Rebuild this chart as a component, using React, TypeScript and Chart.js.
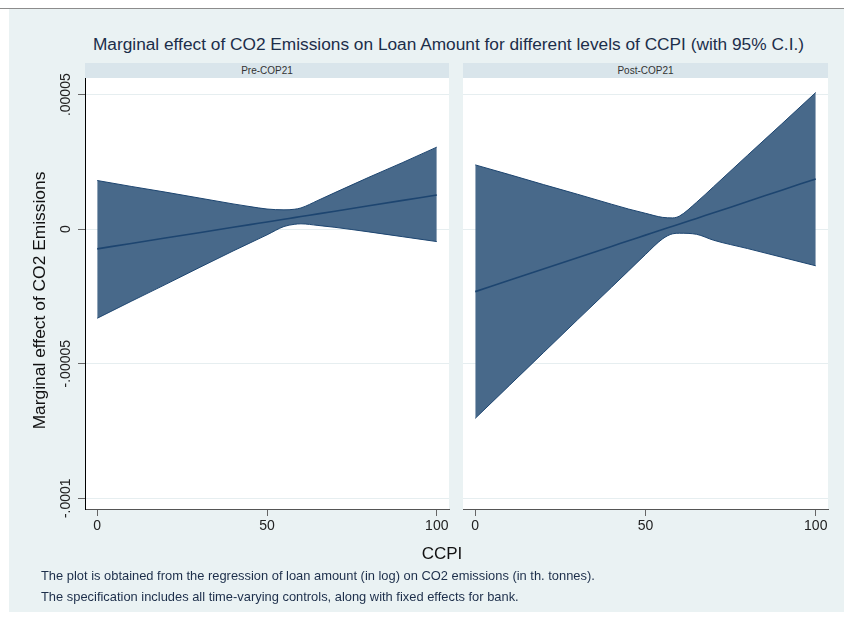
import React, { useEffect, useRef } from 'react';
import { Chart, registerables } from 'chart.js';

Chart.register(...registerables);

// ---- Data ----
const ccpi = [0, 10, 20, 30, 40, 45, 50, 55, 58, 60, 65, 70, 80, 90, 100];

const preCenter = [-7.3e-6, -5.3e-6, -3.3e-6, -1.3e-6, 0.7e-6, 1.7e-6, 2.7e-6, 3.7e-6, 4.3e-6, 4.7e-6, 5.7e-6, 6.7e-6, 8.7e-6, 10.7e-6, 12.7e-6];
const preUpper = [18.1e-6, 15.9e-6, 13.8e-6, 11.6e-6, 9.4e-6, 8.4e-6, 7.5e-6, 7.2e-6, 7.4e-6, 7.9e-6, 10.7e-6, 13.6e-6, 19.3e-6, 24.8e-6, 30.5e-6];
const preLower = [-33.1e-6, -26.8e-6, -20.6e-6, -14.3e-6, -8.1e-6, -5.1e-6, -2.1e-6, 1.0e-6, 1.8e-6, 2.0e-6, 1.4e-6, 0.7e-6, -1.0e-6, -2.8e-6, -4.6e-6];

const postCenter = [-23.2e-6, -19.0e-6, -14.8e-6, -10.6e-6, -6.4e-6, -4.3e-6, -2.2e-6, -0.1e-6, 1.1e-6, 1.9e-6, 4.0e-6, 6.1e-6, 10.3e-6, 14.5e-6, 18.7e-6];
const postUpper = [23.9e-6, 20.3e-6, 16.6e-6, 13.0e-6, 9.3e-6, 7.5e-6, 5.9e-6, 4.4e-6, 4.2e-6, 4.9e-6, 10.0e-6, 15.8e-6, 27.5e-6, 39.1e-6, 50.8e-6];
const postLower = [-70.3e-6, -58.1e-6, -45.9e-6, -33.7e-6, -21.6e-6, -15.5e-6, -9.4e-6, -3.6e-6, -1.7e-6, -1.5e-6, -1.9e-6, -4.1e-6, -7.2e-6, -10.4e-6, -13.6e-6];

const yTickValues = [0.00005, 0, -0.00005, -0.0001];
const yTickLabels = ['.00005', '0', '-.00005', '-.0001'];
const xTickValues = [0, 50, 100];
const xTickLabels = ['0', '50', '100'];
const panelTitles = ['Pre-COP21', 'Post-COP21'];

const titleText = 'Marginal effect of CO2 Emissions on Loan Amount for different levels of CCPI (with 95% C.I.)';
const yTitleText = 'Marginal effect of CO2 Emissions';
const xTitleText = 'CCPI';
const notes = [
  'The plot is obtained from the regression of loan amount (in log) on CO2 emissions (in th. tonnes).',
  'The specification includes all time-varying controls, along with fixed effects for bank.',
];

// ---- Styling ----
const FONT = '"Liberation Sans", Arial, Helvetica, sans-serif';
const BG = '#eaf2f3';
const STRIP = '#d9e5eb';
const BAND = '#48698a';
const LINE = '#1d4570';
const GRID = '#e6eef0';
const Y_MIN = -1.04e-4;
const Y_MAX = 5.62e-5;
const X_MIN = -3.6;
const X_MAX = 103.6;

const whiteArea = {
  id: 'whiteArea',
  beforeDraw(chart: any) {
    const { ctx, chartArea } = chart;
    ctx.save();
    ctx.fillStyle = '#ffffff';
    ctx.fillRect(chartArea.left, chartArea.top, chartArea.right - chartArea.left, chartArea.bottom - chartArea.top);
    ctx.restore();
  },
};

const rotatedYLabels = {
  id: 'rotatedYLabels',
  afterDraw(chart: any) {
    const { ctx, chartArea } = chart;
    const y = chart.scales.y;
    ctx.save();
    ctx.fillStyle = '#222';
    ctx.font = `14px ${FONT}`;
    ctx.textAlign = 'center';
    ctx.textBaseline = 'middle';
    yTickValues.forEach((v, i) => {
      const py = y.getPixelForValue(v);
      ctx.save();
      ctx.translate(66, py);
      ctx.rotate(-Math.PI / 2);
      ctx.fillText(yTickLabels[i], 0, 0);
      ctx.restore();
    });
    // axis title
    ctx.fillStyle = '#111';
    ctx.font = `17.4px ${FONT}`;
    ctx.save();
    ctx.translate(40, (chartArea.top + chartArea.bottom) / 2 + 7);
    ctx.rotate(-Math.PI / 2);
    ctx.fillText(yTitleText, 0, 0);
    ctx.restore();
    ctx.restore();
  },
};

function makeConfig(center: number[], upper: number[], lower: number[], showY: boolean, padRight: number): any {
  const pts = (arr: number[]) => ccpi.map((x, i) => ({ x, y: arr[i] }));
  return {
    type: 'line',
    data: {
      datasets: [
        { label: 'center', data: pts(center), borderColor: LINE, borderWidth: 1.6, pointRadius: 0, fill: false, cubicInterpolationMode: 'monotone' },
        { label: 'lower', data: pts(lower), borderColor: LINE, borderWidth: 1, pointRadius: 0, fill: false, cubicInterpolationMode: 'monotone' },
        { label: 'upper', data: pts(upper), borderColor: LINE, borderWidth: 1, pointRadius: 0, fill: '-1', backgroundColor: BAND, cubicInterpolationMode: 'monotone' },
      ],
    },
    options: {
      animation: false,
      responsive: false,
      maintainAspectRatio: false,
      devicePixelRatio: 1,
      layout: { padding: { left: 0, right: padRight, top: 18, bottom: 0 } },
      plugins: { legend: { display: false }, tooltip: { enabled: false }, title: { display: false } },
      scales: {
        x: {
          type: 'linear',
          min: X_MIN,
          max: X_MAX,
          afterBuildTicks: (s: any) => { s.ticks = xTickValues.map((v) => ({ value: v })); },
          ticks: {
            callback: (v: any) => xTickLabels[xTickValues.indexOf(Number(v))],
            font: { family: FONT, size: 14 },
            color: '#222',
            padding: 2,
            maxRotation: 0,
            autoSkip: false,
          },
          grid: { drawOnChartArea: false, drawTicks: true, tickLength: 7, tickColor: '#666' },
          border: { display: true, color: '#555', width: 1 },
          afterFit: (s: any) => { s.height = 51; },
        },
        y: {
          type: 'linear',
          min: Y_MIN,
          max: Y_MAX,
          afterBuildTicks: (s: any) => { s.ticks = yTickValues.map((v) => ({ value: v })); },
          ticks: { display: false },
          grid: { color: GRID, lineWidth: 1, drawTicks: showY, tickLength: 7, tickColor: '#666' },
          border: { display: showY, color: '#000', width: 1 },
          title: { display: false },
          afterFit: (s: any) => { s.width = showY ? 85 : 0; },
        },
      },
    },
    plugins: showY ? [whiteArea, rotatedYLabels] : [whiteArea],
  };
}

export default function App() {
  const leftRef = useRef<HTMLCanvasElement>(null);
  const rightRef = useRef<HTMLCanvasElement>(null);

  useEffect(() => {
    const c1 = new Chart(leftRef.current as HTMLCanvasElement, makeConfig(preCenter, preUpper, preLower, true, 7));
    const c2 = new Chart(rightRef.current as HTMLCanvasElement, makeConfig(postCenter, postUpper, postLower, false, 16));
    return () => { c1.destroy(); c2.destroy(); };
  }, []);

  const abs = (s: any): any => ({ position: 'absolute', ...s });

  return (
    <div style={abs({ left: 0, top: 0, width: 844, height: 622, background: '#fff', overflow: 'hidden', fontFamily: FONT })}>
      <div style={abs({ left: 0, top: 8, width: 844, height: 1, background: '#8c8c8c' })} />
      <div style={abs({ left: 9, top: 9, width: 835, height: 603, background: BG })} />
      <div style={abs({ left: 0, width: 897, top: 33, height: 22, lineHeight: '22px', fontSize: 17.3, textAlign: 'center', color: '#1c2e4a', whiteSpace: 'nowrap' })}>{titleText}</div>
      <div style={abs({ left: 85, top: 63, width: 364, height: 15, lineHeight: '15px', background: STRIP, fontSize: 10, textAlign: 'center', color: '#333' })}>{panelTitles[0]}</div>
      <div style={abs({ left: 463, top: 63, width: 365, height: 15, lineHeight: '15px', background: STRIP, fontSize: 10, textAlign: 'center', color: '#333' })}>{panelTitles[1]}</div>
      <canvas ref={leftRef} width={456} height={500} style={abs({ left: 0, top: 60, width: 456, height: 500, display: 'block' })} />
      <canvas ref={rightRef} width={381} height={500} style={abs({ left: 463, top: 60, width: 381, height: 500, display: 'block' })} />
      <div style={abs({ left: 342, width: 200, top: 544, height: 20, lineHeight: '20px', fontSize: 17, textAlign: 'center', color: '#111' })}>{xTitleText}</div>
      <div style={abs({ left: 41, top: 565, lineHeight: '21px', fontSize: 12.9, color: '#1c2e4a', whiteSpace: 'nowrap' })}>
        {notes.map((n, i) => (<div key={i}>{n}</div>))}
      </div>
    </div>
  );
}
